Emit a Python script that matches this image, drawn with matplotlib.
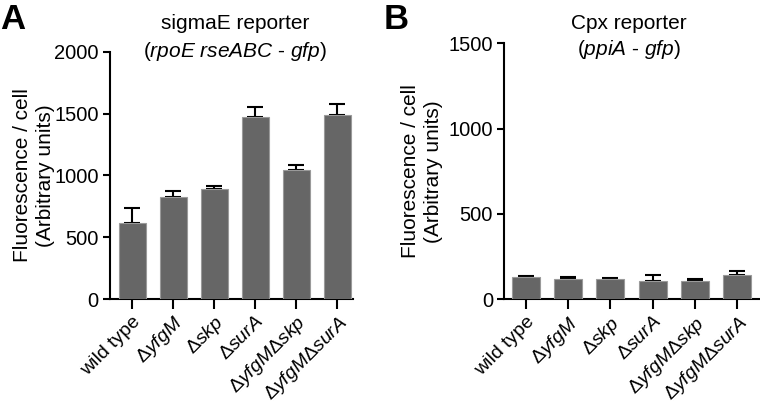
import matplotlib
matplotlib.use("Agg")
import numpy as np
import matplotlib.pyplot as plt

plt.rcParams['font.family'] = ['Liberation Sans', 'DejaVu Sans']
plt.rcParams['mathtext.fontset'] = 'custom'
plt.rcParams['mathtext.rm'] = 'Liberation Sans'
plt.rcParams['mathtext.it'] = 'Liberation Sans:italic'

strains = ['wild type', 'Δ$\\mathit{yfgM}$', 'Δ$\\mathit{skp}$', 'Δ$\\mathit{surA}$',
           'Δ$\\mathit{yfgM}$Δ$\\mathit{skp}$', 'Δ$\\mathit{yfgM}$Δ$\\mathit{surA}$']

sigmae_mean = [618, 828, 888, 1476, 1047, 1490]
sigmae_err = [119, 49, 30, 81, 40, 86]

cpx_mean = [129, 119, 119, 107, 107, 144]
cpx_err = [7, 11, 8, 35, 14, 24]

BAR = '#666666'
EDGE = '#9a9a9a'
FS = 15
TS = 14

fig = plt.figure(figsize=(7.6, 4.04), dpi=100, facecolor='white')
axA = fig.add_axes([0.1447, 0.2599, 0.3198, 0.6114])
axB = fig.add_axes([0.6632, 0.2591, 0.3358, 0.6337])


def draw(ax, means, errs, ymax, step, xlim):
    x = np.arange(len(means))
    ax.bar(x, means, width=0.66, color=BAR, edgecolor=EDGE, linewidth=0.8, zorder=3)
    ax.errorbar(x, means, yerr=[np.zeros(len(errs)), errs], fmt='none',
                ecolor='black', elinewidth=1.5, capsize=5.8, capthick=1.5, zorder=2)
    ax.set_ylim(0, ymax)
    ax.set_xlim(*xlim)
    ax.set_yticks(np.arange(0, ymax + 1, step))
    ax.set_xticks(x)
    ax.set_xticklabels(strains, rotation=45, ha='right', rotation_mode='anchor', fontsize=TS)
    ax.tick_params(axis='y', labelsize=TS + 0.5, length=5, width=1.5, pad=3)
    ax.tick_params(axis='x', length=7, width=1.5, pad=3)
    for s in ['top', 'right']:
        ax.spines[s].set_visible(False)
    for s in ['left', 'bottom']:
        ax.spines[s].set_linewidth(1.5)
    ax.set_ylabel('Fluorescence / cell\n(Arbitrary units)', fontsize=FS, linespacing=1.3)


draw(axA, sigmae_mean, sigmae_err, 2000, 500, (-0.54, 5.39))
draw(axB, cpx_mean, cpx_err, 1500, 500, (-0.51, 5.52))
axA.yaxis.set_label_coords(-0.226, 0.5)
axB.yaxis.set_label_coords(-0.239, 0.5)

fig.text(0.309, 0.942, 'sigmaE reporter', ha='center', va='center', fontsize=FS)
fig.text(0.309, 0.873, '($\\mathit{rpoE\\ rseABC}$ - $\\mathit{gfp}$)', ha='center', va='center', fontsize=FS)
fig.text(0.828, 0.942, 'Cpx reporter', ha='center', va='center', fontsize=FS)
fig.text(0.828, 0.878, '($\\mathit{ppiA}$ - $\\mathit{gfp}$)', ha='center', va='center', fontsize=FS)

fig.text(0.0, 0.952, 'A', ha='left', va='center', fontsize=25, weight='bold')
fig.text(0.505, 0.952, 'B', ha='left', va='center', fontsize=25, weight='bold')

fig.savefig('out.png', dpi=100, facecolor='white')
